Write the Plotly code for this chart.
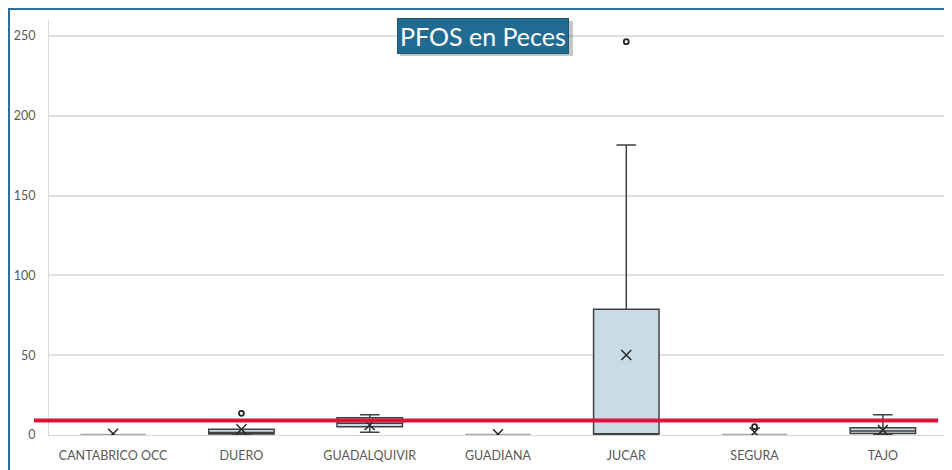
import plotly.graph_objects as go

categories = ["CANTABRICO OCC", "DUERO", "GUADALQUIVIR", "GUADIANA", "JUCAR", "SEGURA", "TAJO"]
q1 = [0.0, 0.6, 5.2, 0.0, 0.2, 0.0, 1.0]
median = [0.0, 1.5, 7.3, 0.0, 0.5, 0.0, 2.5]
q3 = [0.0, 3.6, 10.8, 0.0, 78.8, 0.0, 4.6]
lowerfence = [0.0, 0.3, 1.7, 0.0, 0.0, 0.0, 0.4]
upperfence = [0.0, 3.6, 12.7, 0.0, 181.7, 0.0, 12.7]
means = [0.8, 3.6, 6.3, 0.5, 50.1, 1.7, 3.1]
outlier_cats = ["DUERO", "JUCAR", "SEGURA"]
outlier_vals = [13.6, 246.4, 5.2]
limit_value = 9.1
y_ticks = [0, 50, 100, 150, 200, 250]
title_text = "PFOS en Peces"

flat = [i for i in range(len(categories)) if q3[i] == q1[i]]
full = [i for i in range(len(categories)) if q3[i] != q1[i]]

def pick(arr, idx):
    return [arr[i] for i in idx]

# figure geometry (figure is placed at page offset 8,8)
W, H = 944, 462
ML, MR, MT, MB = 41, 5, 12, 35
PW, PH = W - ML - MR, H - MT - MB

def px(x):
    return (x - ML) / PW

def py(y):
    return (H - MB - y) / PH

fig = go.Figure()
fig.add_trace(go.Box(
    x=pick(categories, full), q1=pick(q1, full), median=pick(median, full), q3=pick(q3, full),
    lowerfence=pick(lowerfence, full), upperfence=pick(upperfence, full),
    fillcolor="#c9dce6", line=dict(color="#404040", width=1.5), whiskerwidth=0.3,
    boxpoints=False, showlegend=False, hoverinfo="skip"))
fig.add_trace(go.Box(
    x=pick(categories, flat), q1=pick(q1, flat), median=pick(median, flat), q3=pick(q3, flat),
    lowerfence=pick(lowerfence, flat), upperfence=pick(upperfence, flat),
    fillcolor="#c9dce6", line=dict(color="#a6a6a6", width=2.5), whiskerwidth=0.3,
    boxpoints=False, showlegend=False, hoverinfo="skip"))
fig.add_trace(go.Scatter(
    x=categories, y=means, mode="markers",
    marker=dict(symbol="x-thin-open", size=10, color="#262626", line=dict(color="#262626", width=1.5)),
    showlegend=False, hoverinfo="skip"))
fig.add_trace(go.Scatter(
    x=outlier_cats, y=outlier_vals, mode="markers",
    marker=dict(symbol="circle-open", size=5, color="#262626", line=dict(color="#262626", width=1.8)),
    showlegend=False, hoverinfo="skip"))

# outer frame
fig.add_shape(type="rect", xref="paper", yref="paper",
              x0=px(1), x1=px(W + 40), y0=py(H + 40), y1=py(1),
              fillcolor="white", line=dict(color="#2b6f98", width=2), layer="below")
# red limit line
fig.add_shape(type="line", xref="paper", yref="y",
              x0=px(26), x1=px(930), y0=limit_value, y1=limit_value,
              line=dict(color="#dc143c", width=4), layer="above")
# title shadow
fig.add_shape(type="rect", xref="paper", yref="paper",
              x0=px(392), x1=px(565), y0=py(48), y1=py(13),
              fillcolor="rgba(0,0,0,0.22)", line=dict(width=0), layer="above")
fig.add_annotation(text=title_text, xref="paper", yref="paper",
                   x=px(475), y=py(28), xanchor="center", yanchor="middle",
                   showarrow=False, bgcolor="#216b92", bordercolor="#1b5a7c", borderwidth=1,
                   borderpad=2, font=dict(family="Lato", size=25, color="white"))

fig.update_layout(
    width=W, height=H,
    margin=dict(l=ML, r=MR, t=MT, b=MB),
    paper_bgcolor="white", plot_bgcolor="white",
    font=dict(family="Lato", color="#595959", size=12),
    boxmode="overlay", boxgap=0.49, boxgroupgap=0,
    xaxis=dict(type="category", categoryarray=categories, categoryorder="array",
               showgrid=False, showline=True, linecolor="#d9d9d9", linewidth=1,
               ticks="", ticklabelstandoff=9, tickfont=dict(size=12.5, color="#595959"), zeroline=False),
    yaxis=dict(range=[0, 260], tickvals=y_ticks, showgrid=True, gridcolor="#e0e0e0", gridwidth=1.5,
               showline=True, linecolor="#d9d9d9", linewidth=1, zeroline=False,
               ticks="", ticklabelstandoff=10, tickfont=dict(size=12.5, color="#595959")),
)
fig.write_html("out.html")
